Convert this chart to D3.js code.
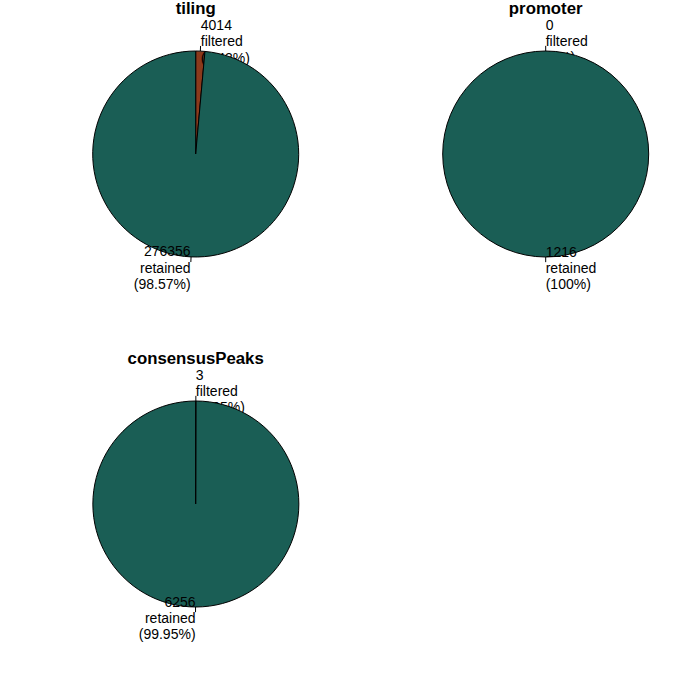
<!DOCTYPE html>
<html>
<head>
<meta charset="utf-8">
<script src="https://cdn.jsdelivr.net/npm/d3@7"></script>
<style>
html,body{margin:0;padding:0;background:#fff;}
svg{display:block;}
text{font-family:"Liberation Sans",Arial,Helvetica,sans-serif;fill:#000;}
</style>
</head>
<body>
<div id="chart"></div>
<script>
const panels = ["tiling", "promoter", "consensusPeaks"];
const categories = ["filtered", "retained"];
const filteredValues = [4014, 0, 3];
const retainedValues = [276356, 1216, 6256];
const colors = ["#8B3A1C", "#1A5E55"];

const W = 700, H = 700;
const svg = d3.select("#chart").append("svg").attr("width", W).attr("height", H);

const panelW = 350, panelH = 350;
const cxOff = 195.7, cyOff = 154, R = 103;
const lineH = 16.2;

const pie = d3.pie().sort(null).value(d => d.value);
const arc = d3.arc().innerRadius(0).outerRadius(R);
const fmtPct = v => String(+v.toFixed(2));

panels.forEach((name, i) => {
  const col = i % 2, row = Math.floor(i / 2);
  const g = svg.append("g")
    .attr("transform", `translate(${col * panelW + cxOff},${row * panelH + cyOff})`);

  const data = [
    {cat: categories[0], value: filteredValues[i]},
    {cat: categories[1], value: retainedValues[i]}
  ];
  const total = d3.sum(data, d => d.value);
  const arcs = pie(data);

  arcs.forEach((a, k) => {
    g.append("path")
      .attr("d", arc(a))
      .attr("fill", colors[k])
      .attr("stroke", "#000")
      .attr("stroke-width", 1)
      .attr("stroke-linejoin", "round");

    const mid = (a.startAngle + a.endAngle) / 2;
    const px = Math.sin(mid), py = -Math.cos(mid);
    g.append("line")
      .attr("x1", px * R).attr("y1", py * R)
      .attr("x2", px * R * 1.05).attr("y2", py * R * 1.05)
      .attr("stroke", "#000").attr("stroke-width", 1);

    const lines = [String(a.data.value), a.data.cat, "(" + fmtPct(a.data.value / total * 100) + "%)"];
    const lx = px * R * 1.1, ly = py * R * 1.1;
    const t = g.append("text")
      .attr("font-size", 14)
      .attr("text-anchor", px < 0 ? "end" : "start");
    lines.forEach((s, j) => {
      t.append("tspan")
        .attr("x", lx)
        .attr("y", ly + 5.5 + (j - 1) * lineH)
        .text(s);
    });
  });

  svg.append("text")
    .attr("x", col * panelW + cxOff)
    .attr("y", row * panelH + 13.5)
    .attr("text-anchor", "middle")
    .attr("font-size", 16.8)
    .attr("font-weight", "bold")
    .text(name);
});
</script>
</body>
</html>
